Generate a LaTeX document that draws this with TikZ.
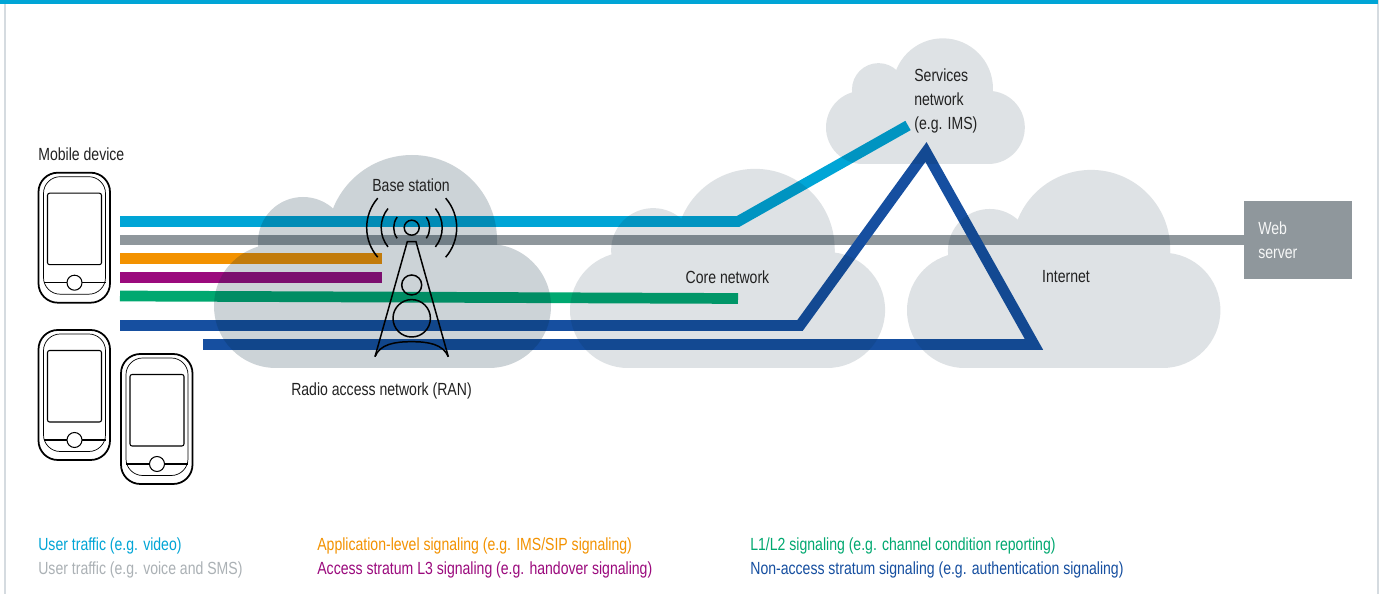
\documentclass[tikz,border=0pt]{standalone}
\usepackage{fontspec}
\setmainfont[FakeStretch=0.8]{Liberation Sans}
\definecolor{usercyan}{HTML}{00A5D6}
\definecolor{usergray}{HTML}{8F979C}
\definecolor{apporange}{HTML}{F39200}
\definecolor{aspurple}{HTML}{9B0A7D}
\definecolor{phygreen}{HTML}{00A870}
\definecolor{nasblue}{HTML}{164FA0}
\definecolor{cloudtint}{RGB}{0,35,55}
\definecolor{framegray}{HTML}{D5DBE0}
\definecolor{labelgray}{HTML}{222222}
\tikzset{
    flow/.style={line width=6.1pt,line cap=butt,miter limit=20},
    lbl/.style={inner sep=0pt,text=labelgray,font=\fontsize{10}{13.6}\selectfont},
    legend/.style={lbl,anchor=west},
    mast/.style={line width=0.85pt,black},
    phone/.pic={
        \draw[line width=1pt,rounded corners=11pt] (0,0) rectangle (71.5,130);
        \draw[line width=0.4pt,rounded corners=9.5pt] (5,4) rectangle (67,121.5);
        \draw[line width=0.6pt,rounded corners=1.2pt] (9,20.5) rectangle (63,92);
        \draw[line width=0.6pt] (5,110) -- (67,110);
        \draw[line width=0.6pt,fill=white] (36,110) circle (7.5);
    }
}
\newcommand{\netcloud}[4]{
    \begin{scope}[shift={(#1,#2)},scale=#3,transparency group,opacity=#4]
        \fill[cloudtint] (62,-62) circle (62) (275,-62) circle (62) (198,-128) circle (85) (89,-126) circle (45);
        \fill[cloudtint] (62,0) -- (275,0) -- (275,-62) -- (283,-124) -- (283,-128) -- (45,-126) -- (62,-62) -- cycle;
    \end{scope}
}
\begin{document}
\begin{tikzpicture}[x=0.02cm,y=-0.02cm]
    \useasboundingbox (0,0) rectangle (1384,594);
    \fill[white] (0,0) rectangle (1384,594);

    % frame
    \fill[framegray] (4,0) rectangle (5.5,594);
    \fill[framegray] (1376.5,0) rectangle (1378.5,594);
    \fill[usercyan] (0,0) rectangle (1378,4);

    \coordinate (T) at (411.7,227.7);
    \coordinate (Cs) at (120,221.5);
    \coordinate (Cb) at (738,221.5);
    \coordinate (Ce) at (908,125.5);
    \coordinate (Gs) at (120,240);
    \coordinate (Os) at (120,258.7);
    \coordinate (Oe) at (381.7,258.7);
    \coordinate (Ps) at (120,277.3);
    \coordinate (Pe) at (381.7,277.3);
    \coordinate (Ls) at (120,296);
    \coordinate (Le) at (738,298.5);
    \coordinate (Ns) at (120,325.5);
    \coordinate (Nb) at (800,325.5);
    \coordinate (Na) at (926,152);
    \coordinate (Nc) at (1034,344.5);
    \coordinate (Ne) at (203,344.5);

    \node[fill=usergray,minimum width=61.2pt,minimum height=44.2pt,inner sep=0pt,anchor=north west] (web) at (1244,201) {};
    \node[lbl,anchor=west,text=white!92!usergray,align=left] (weblbl) at (1258,240) {Web\\server};

    \draw[flow,usercyan] (Cs) -- (Cb) -- (Ce);
    \draw[flow,usergray] (Gs) -- (web.west |- Gs);
    \draw[flow,apporange] (Os) -- (Oe);
    \draw[flow,aspurple] (Ps) -- (Pe);
    \draw[flow,phygreen] (Ls) -- (Le);
    \draw[flow,nasblue] (Ns) -- (Nb) -- (Na) -- (Nc) -- (Ne);

    \netcloud{214}{368}{1}{0.2}
    \netcloud{570}{368}{0.935}{0.13}
    \netcloud{907}{368}{0.93}{0.13}
    \netcloud{826}{164}{0.59}{0.13}

    % phones
    \foreach \px/\py in {38.5/172.7,38.5/330,121/354}{
        \pic at (\px,\py) {phone};
    }

    % mast
    \draw[mast] (T) circle (7.5);
    \foreach \r/\s in {18/36,30.5/39,45/41}{
        \draw[mast] (T) ++(180-\s:\r) arc[start angle=180-\s,end angle=180+\s,radius=\r];
        \draw[mast] (T) ++(\s:\r) arc[start angle=\s,end angle=-\s,radius=\r];
    }
    \draw[mast] (375,356.7) -- (407.3,241.7) -- (416,241.7) -- (448.3,356.7);
    \draw[mast] (375,356.7) .. controls (380,344) and (395,341.7) .. (411.7,341.7) .. controls (428,341.7) and (443,344) .. (448.3,356.7);
    \draw[mast] (411.7,285) circle (10);
    \draw[mast] (411.7,318.3) circle (18.7);

    \node[lbl,anchor=west] (mobile) at (38,154) {Mobile device};
    \node[lbl] (base) at (411,185) {Base station};
    \node[lbl] (ran) at (381.5,391) {Radio access network (RAN)};
    \node[lbl] (core) at (727.5,277) {Core network};
    \node[lbl] (inet) at (1066,277) {Internet};
    \node[lbl,anchor=west,align=left] (ims) at (914,101) {Services\\network\\(e.g. IMS)};

    \node[legend,text=usercyan] (l1) at (38,546) {User traffic (e.g. video)};
    \node[legend,text=usergray!75] (l2) at (38,570) {User traffic (e.g. voice and SMS)};
    \node[legend,text=apporange] (l3) at (317,546) {Application-level signaling (e.g. IMS/SIP signaling)};
    \node[legend,text=aspurple] (l4) at (317,570) {Access stratum L3 signaling (e.g. handover signaling)};
    \node[legend,text=phygreen] (l5) at (750,546) {L1/L2 signaling (e.g. channel condition reporting)};
    \node[legend,text=nasblue] (l6) at (750,570) {Non-access stratum signaling (e.g. authentication signaling)};
\end{tikzpicture}
\end{document}
